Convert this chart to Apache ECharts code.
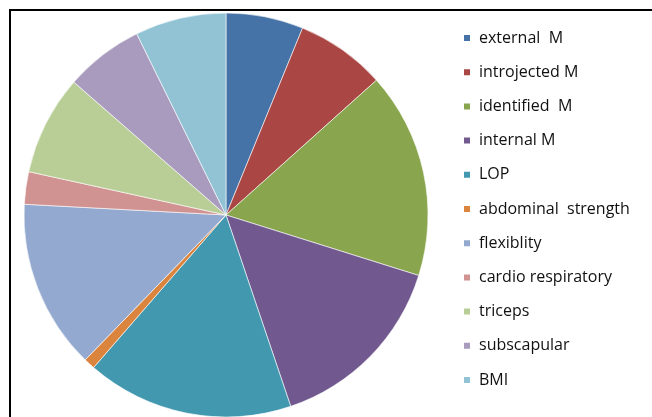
<!DOCTYPE html>
<html>
<head>
<meta charset="utf-8">
<script src="https://cdn.jsdelivr.net/npm/echarts@6/dist/echarts.min.js"></script>
<style>
html,body{margin:0;padding:0;background:#fff;}
#chart{width:652px;height:417px;}
</style>
</head>
<body>
<div id="chart"></div>
<script>
var categories = ['external  M','introjected M','identified  M','internal M','LOP','abdominal  strength','flexiblity','cardio respiratory','triceps','subscapular','BMI'];
var values = [6.2, 7.2, 16.5, 15.0, 16.6, 0.9, 13.6, 2.6, 8.0, 6.3, 7.3];
var colors = ['#4572A7','#AA4643','#89A54E','#71588F','#4198AF','#DB843D','#93A9CF','#D19392','#B9CD96','#A99BBD','#91C3D5'];

var chart = echarts.init(document.getElementById('chart'), null, {renderer:'canvas'});
chart.setOption({
  animation:false,
  color: colors,
  graphic:[{
    type:'rect',
    shape:{x:10,y:10,width:800,height:600},
    style:{fill:'none',stroke:'#000',lineWidth:2},
    silent:true
  }],
  legend:{
    orient:'vertical',
    left:462,
    top:28,
    padding:0,
    itemWidth:8,
    itemHeight:8,
    itemGap:14.2,
    icon:'rect',
    textStyle:{fontFamily:'Open Sans',fontSize:16,color:'#111',lineHeight:20,padding:[0,0,0,3]},
    data:categories
  },
  series:[{
    type:'pie',
    center:[226,215],
    radius:202,
    startAngle:90,
    clockwise:true,
    label:{show:false},
    labelLine:{show:false},
    emphasis:{disabled:true},
    itemStyle:{borderColor:'#ffffff',borderWidth:0.6},
    data: categories.map(function(c,i){return {name:c,value:values[i]};})
  }]
});
</script>
</body>
</html>
